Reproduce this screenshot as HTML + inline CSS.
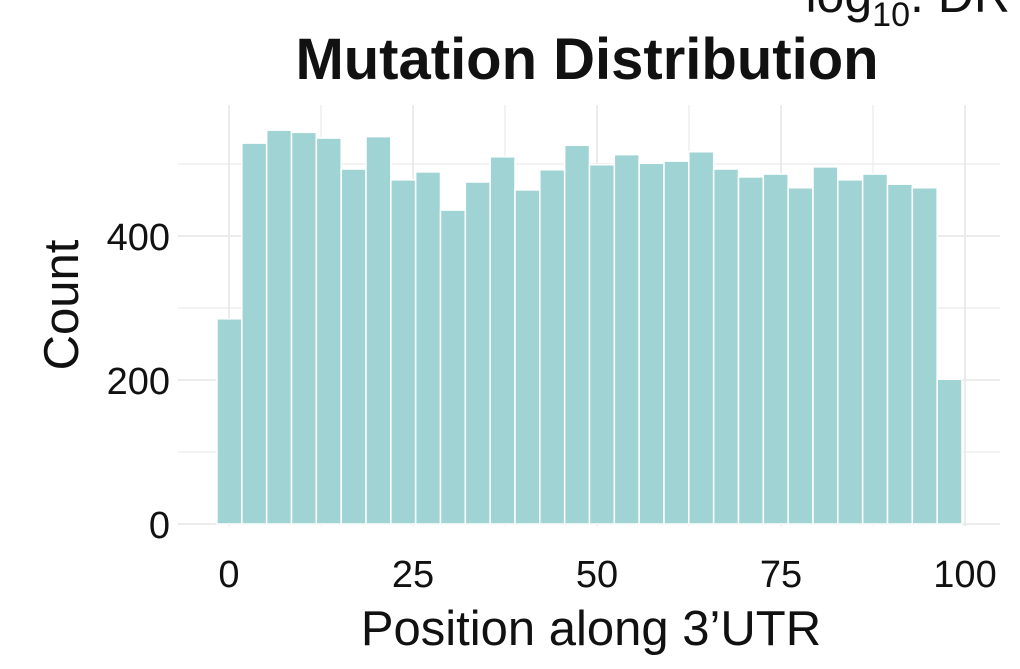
<!DOCTYPE html>
<html><head><meta charset="utf-8"><style>
html,body{margin:0;padding:0;background:#fff;width:1020px;height:669px;overflow:hidden}
svg text{font-family:"Liberation Sans",sans-serif;fill:#111}
</style></head><body>
<svg id="chart" width="1020" height="669">
<text x="1010" y="12" text-anchor="end" font-size="50">log<tspan font-size="34" dy="14">10</tspan><tspan dy="-14">. DR</tspan></text>
<text x="587" y="79" text-anchor="middle" font-size="58" font-weight="bold">Mutation Distribution</text>
<g id="grid"></g><g id="bars"></g><g id="ticks"></g>
<text x="591" y="645" text-anchor="middle" font-size="49">Position along 3’UTR</text>
<text transform="translate(78,305) rotate(-90)" text-anchor="middle" font-size="49">Count</text>
</svg>
<script>
const counts=[285,529,547,544,536,493,538,478,489,436,475,510,464,492,526,499,513,501,504,517,493,482,486,467,496,478,486,472,467,201];
const binStart=-1.63, binWidth=3.374;
const xTicks=[0,25,50,75,100];
const yTicks=[0,200,400];
const ns="http://www.w3.org/2000/svg";
const xs=v=>229+v*7.36, ys=v=>524-v*0.72;
function mk(t,a,p){const e=document.createElementNS(ns,t);for(const k in a)e.setAttribute(k,a[k]);document.getElementById(p).appendChild(e);return e;}
for(let v=0;v<=100;v+=12.5){const l=mk('line',{x1:xs(v),x2:xs(v),y1:105,y2:526,stroke:'#ebebeb','stroke-width':v%25===0?2:1.2},'grid');

}
for(let v=0;v<=500;v+=100){const l=mk('line',{x1:178,x2:1000,y1:ys(v),y2:ys(v),stroke:'#ebebeb','stroke-width':v%200===0?2:1.2},'grid');

}
counts.forEach((c,i)=>{const x0=xs(binStart+i*binWidth),x1=xs(binStart+(i+1)*binWidth);
const r=mk('rect',{x:x0,y:ys(c),width:x1-x0,height:ys(0)-ys(c),fill:'#a0d3d3',stroke:'#fff','stroke-width':1.5},'bars');

});
xTicks.forEach(v=>{const t=mk('text',{x:xs(v),y:587,'text-anchor':'middle','font-size':38,fill:'#222'},'ticks');t.textContent=v;

});
yTicks.forEach(v=>{const t=mk('text',{x:170,y:ys(v)+14,'text-anchor':'end','font-size':38,fill:'#222'},'ticks');t.textContent=v;

});
</script>
</body></html>
